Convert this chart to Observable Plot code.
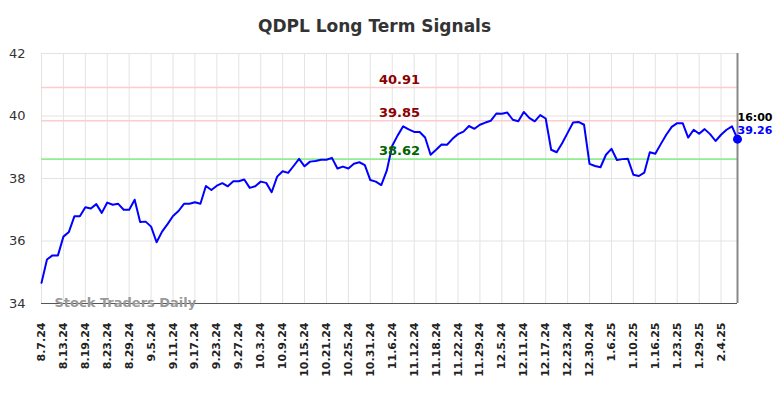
<!DOCTYPE html>
<html><head><meta charset="utf-8">
<script src="https://cdn.jsdelivr.net/npm/d3@7"></script>
<script src="https://cdn.jsdelivr.net/npm/@observablehq/plot@0.6"></script>
<style>body{margin:0;background:#fff}</style>
</head><body><div id="chart"></div>
<script>
const dates = [
"8.7.24","8.8.24","8.9.24","8.12.24","8.13.24","8.14.24","8.15.24","8.16.24","8.19.24","8.20.24","8.21.24","8.22.24","8.23.24","8.26.24","8.27.24","8.28.24","8.29.24","8.30.24",
"9.3.24","9.4.24","9.5.24","9.6.24","9.9.24","9.10.24","9.11.24","9.12.24","9.13.24","9.16.24","9.17.24","9.18.24","9.19.24","9.20.24","9.23.24","9.24.24","9.25.24","9.26.24","9.27.24","9.30.24",
"10.1.24","10.2.24","10.3.24","10.4.24","10.7.24","10.8.24","10.9.24","10.10.24","10.11.24","10.14.24","10.15.24","10.16.24","10.17.24","10.18.24","10.21.24","10.22.24","10.23.24","10.24.24","10.25.24","10.28.24","10.29.24","10.30.24","10.31.24",
"11.1.24","11.4.24","11.5.24","11.6.24","11.7.24","11.8.24","11.11.24","11.12.24","11.13.24","11.14.24","11.15.24","11.18.24","11.19.24","11.20.24","11.21.24","11.22.24","11.25.24","11.26.24","11.27.24","11.29.24",
"12.2.24","12.3.24","12.4.24","12.5.24","12.6.24","12.9.24","12.10.24","12.11.24","12.12.24","12.13.24","12.16.24","12.17.24","12.18.24","12.19.24","12.20.24","12.23.24","12.24.24","12.26.24","12.27.24","12.30.24","12.31.24",
"1.2.25","1.3.25","1.6.25","1.7.25","1.8.25","1.9.25","1.10.25","1.13.25","1.14.25","1.15.25","1.16.25","1.17.25","1.21.25","1.22.25","1.23.25","1.24.25","1.27.25","1.28.25","1.29.25","1.30.25","1.31.25",
"2.3.25","2.4.25","2.5.25","2.6.25","2.7.25"
];
const prices = [
34.66,35.41,35.54,35.54,36.14,36.29,36.79,36.79,37.08,37.04,37.18,36.90,37.23,37.16,37.19,37.00,37.00,37.32,
36.61,36.62,36.46,35.96,36.30,36.54,36.80,36.96,37.19,37.19,37.24,37.19,37.76,37.63,37.77,37.85,37.75,37.91,37.91,37.97,
37.70,37.75,37.90,37.86,37.56,38.06,38.23,38.18,38.40,38.63,38.39,38.54,38.56,38.60,38.60,38.66,38.32,38.38,38.32,38.47,38.52,38.43,37.95,
37.90,37.79,38.25,39.05,39.38,39.67,39.57,39.49,39.49,39.31,38.76,38.92,39.09,39.08,39.27,39.42,39.50,39.68,39.59,39.72,
39.79,39.85,40.08,40.07,40.11,39.88,39.83,40.13,39.94,39.83,40.03,39.92,38.92,38.84,39.13,39.46,39.79,39.81,39.72,38.47,38.40,
38.36,38.76,38.95,38.59,38.62,38.63,38.12,38.08,38.19,38.84,38.79,39.10,39.40,39.65,39.77,39.77,39.31,39.56,39.43,39.58,39.42,
39.20,39.40,39.56,39.67,39.26
];
const tickDates = ["8.7.24","8.13.24","8.19.24","8.23.24","8.29.24","9.5.24","9.11.24","9.17.24","9.23.24","9.27.24","10.3.24","10.9.24","10.15.24","10.21.24","10.25.24","10.31.24","11.6.24","11.12.24","11.18.24","11.22.24","11.29.24","12.5.24","12.11.24","12.17.24","12.23.24","12.30.24","1.6.25","1.10.25","1.16.25","1.23.25","1.29.25","2.4.25"];
const yTicks = [34, 36, 38, 40, 42];
const levelValues = [40.91, 39.85, 38.62];
const levelLabels = ["40.91", "39.85", "38.62"];
const levelKinds = ["resistance", "resistance", "support"];
const title = "QDPL Long Term Signals";
const watermark = "Stock Traders Daily";
const lastTime = "16:00";

const data = dates.map((d, i) => ({date: d, price: prices[i]}));
const levels = levelValues.map((v, i) => ({value: v, label: levelLabels[i], kind: levelKinds[i]}));
const last = data[data.length - 1];
const lineColor = k => k === "support" ? "#90ee90" : "#ffcccc";
const textColor = k => k === "support" ? "#006400" : "#8b0000";

const chart = Plot.plot({
  width: 784, height: 398,
  marginLeft: 41, marginRight: 47, marginTop: 53, marginBottom: 95,
  style: {fontFamily: "'DejaVu Sans', sans-serif", background: "#fff", color: "#333", overflow: "visible"},
  x: {type: "point", domain: dates, padding: 0},
  y: {domain: [34, 42]},
  color: {type: "identity"},
  marks: [
    Plot.gridY(yTicks, {stroke: "#e3e3e3", strokeOpacity: 1}),
    Plot.gridX(tickDates, {stroke: "#e3e3e3", strokeOpacity: 1}),
    Plot.ruleY(levels, {y: "value", stroke: d => lineColor(d.kind), strokeWidth: 1.6}),
    Plot.ruleY([34], {stroke: "#555", strokeWidth: 1.2}),
    Plot.ruleX([dates[dates.length - 1]], {stroke: "#888", strokeWidth: 2}),
    Plot.text([watermark], {text: d => d, frameAnchor: "bottom-left", textAnchor: "start", lineAnchor: "middle", dx: 13, dy: -1, fill: "#999", fontWeight: "bold", fontSize: 13}),
    Plot.line(data, {x: "date", y: "price", stroke: "#0000ff", strokeWidth: 2}),
    Plot.text(levels, {y: "value", text: "label", frameAnchor: "middle", dx: 10, dy: -8, fill: d => textColor(d.kind), fontWeight: "bold", fontSize: 13}),
    Plot.dot([last], {x: "date", y: "price", r: 4.5, fill: "#0000ff"}),
    Plot.text([last], {x: "date", y: "price", text: () => lastTime, textAnchor: "start", dy: -22, fill: "#000", fontWeight: "bold", fontSize: 11}),
    Plot.text([last], {x: "date", y: "price", text: d => d.price.toFixed(2), textAnchor: "start", dy: -9, fill: "#0000ff", fontWeight: "bold", fontSize: 11}),
    Plot.text([title], {text: d => d, frameAnchor: "top", lineAnchor: "middle", dx: -15, dy: -27, fill: "#333", fontWeight: "bold", fontSize: 17}),
    Plot.axisY(yTicks, {tickSize: 0, tickPadding: 16, fontSize: 13, fill: "#333", label: null}),
    Plot.axisX(tickDates, {tickSize: 0, tickRotate: -90, tickPadding: 19, fontSize: 11, fontWeight: "bold", fill: "#222", label: null})
  ]
});
document.getElementById("chart").appendChild(chart);
</script>
</body></html>
